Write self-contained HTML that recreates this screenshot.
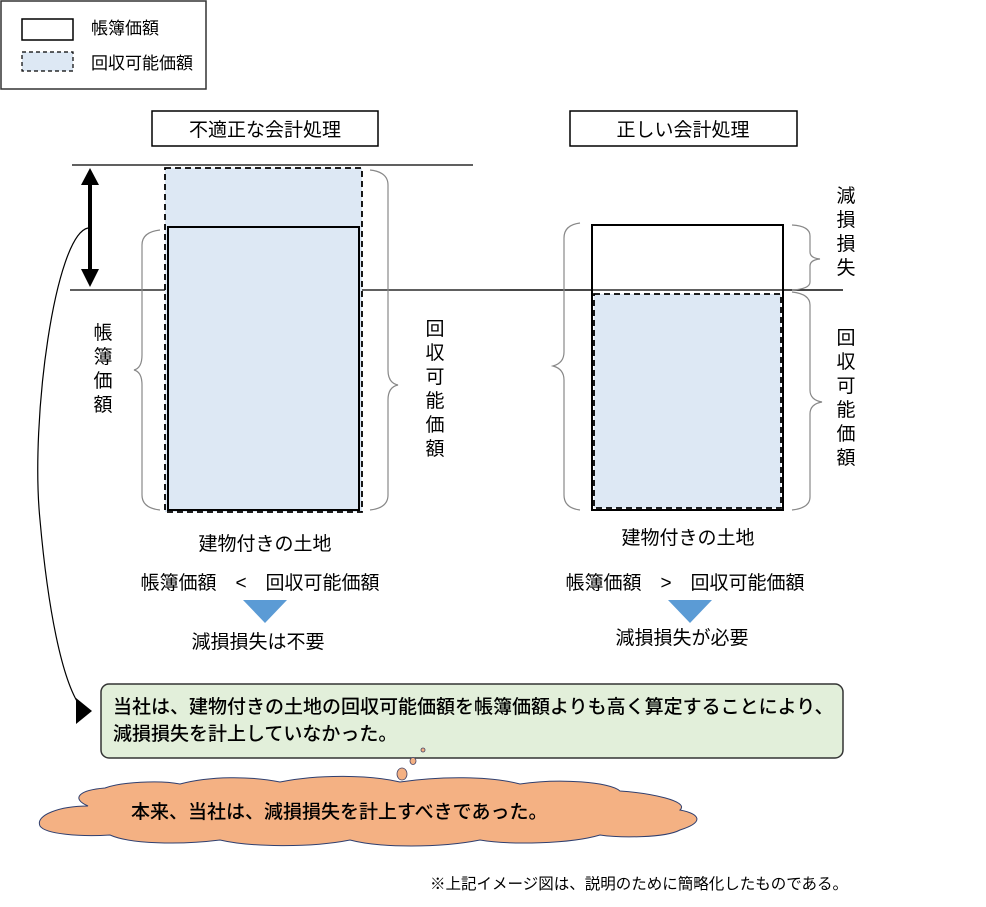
<!DOCTYPE html>
<html><head><meta charset="utf-8"><style>
html,body{margin:0;padding:0;background:#fff;}
svg{display:block;font-family:"Liberation Sans","Noto Sans CJK JP",sans-serif;}
text{font-size:19px;fill:#000;}
</style></head><body>
<svg width="986" height="907" viewBox="0 0 986 907">
<rect x="1" y="1" width="205" height="88" fill="#fff" stroke="#333" stroke-width="1.5"/>
<rect x="22" y="19" width="51" height="21" fill="#fff" stroke="#000" stroke-width="1.5"/>
<text x="91" y="34" style="font-size:17px">帳簿価額</text>
<rect x="22" y="52" width="51" height="19" fill="#dde8f4" stroke="#000" stroke-width="1.2" stroke-dasharray="4,3"/>
<text x="91" y="69" style="font-size:17px">回収可能価額</text>
<rect x="152" y="111" width="226" height="35" fill="#fff" stroke="#000" stroke-width="1.5"/>
<text x="265" y="136" text-anchor="middle">不適正な会計処理</text>
<rect x="570" y="111" width="227" height="35" fill="#fff" stroke="#000" stroke-width="1.5"/>
<text x="683" y="136" text-anchor="middle">正しい会計処理</text>
<line x1="72" y1="165" x2="473" y2="165" stroke="#000" stroke-width="1.2"/>
<line x1="70" y1="290" x2="843" y2="290" stroke="#000" stroke-width="1.2"/>
<rect x="165" y="168" width="197" height="344" fill="#dde8f4" stroke="#000" stroke-width="1.8" stroke-dasharray="6,4"/>
<rect x="168" y="227" width="191" height="283" fill="#dde8f4" stroke="#000" stroke-width="2"/>
<line x1="90" y1="182" x2="90" y2="272" stroke="#000" stroke-width="4"/>
<path d="M81,185 L90,168 L99,185 Z M81,269 L90,287 L99,269 Z" fill="#000"/>
<path d="M160,230 Q142,232 142,245 L142,355 Q142,368 134,370 Q142,372 142,385 L142,495 Q142,508 160,510" fill="none" stroke="#888" stroke-width="1.2"/>
<path d="M370,170 Q388,172 388,185 L388,370 Q388,383 398,385 Q388,387 388,400 L388,495 Q388,508 370,510" fill="none" stroke="#888" stroke-width="1.2"/>
<g text-anchor="middle"><text x="103" y="339">帳</text><text x="103" y="363">簿</text><text x="103" y="387">価</text><text x="103" y="411">額</text>
<text x="435" y="335">回</text><text x="435" y="359">収</text><text x="435" y="383">可</text><text x="435" y="407">能</text><text x="435" y="431">価</text><text x="435" y="455">額</text></g>
<rect x="592" y="225" width="191" height="285" fill="#fff" stroke="#000" stroke-width="2"/>
<rect x="594" y="294" width="187" height="214" fill="#dde8f4" stroke="#000" stroke-width="1.8" stroke-dasharray="6,4"/>
<line x1="500" y1="290" x2="843" y2="290" stroke="#000" stroke-width="1.2"/>
<path d="M580,223 Q564,225 564,238 L564,352 Q564,363 553,366 Q564,369 564,380 L564,495 Q564,508 580,510" fill="none" stroke="#888" stroke-width="1.2"/>
<path d="M792,225 Q810,226 810,236 L810,252 Q810,258 820,259 Q810,260 810,266 L810,282 Q810,289 792,290" fill="none" stroke="#888" stroke-width="1.2"/>
<path d="M792,292 Q810,294 810,305 L810,390 Q810,400 822,402 Q810,404 810,414 L810,497 Q810,508 792,510" fill="none" stroke="#888" stroke-width="1.2"/>
<g text-anchor="middle"><text x="846" y="202">減</text><text x="846" y="226">損</text><text x="846" y="250">損</text><text x="846" y="274">失</text>
<text x="846" y="344">回</text><text x="846" y="368">収</text><text x="846" y="392">可</text><text x="846" y="416">能</text><text x="846" y="440">価</text><text x="846" y="464">額</text>
<text x="265" y="550">建物付きの土地</text><text x="688" y="544">建物付きの土地</text>
<text x="260" y="589">帳簿価額　&lt;　回収可能価額</text><text x="685" y="589">帳簿価額　&gt;　回収可能価額</text>
<text x="258" y="648">減損損失は不要</text><text x="682" y="644">減損損失が必要</text></g>
<path d="M243,600 L287,600 L265,623 Z M668,600 L712,600 L690,623 Z" fill="#5b9bd5"/>
<path d="M88,228 C55,235 30,420 40,520 C48,610 62,680 80,706" fill="none" stroke="#000" stroke-width="1.2"/>
<path d="M76,698 L92,711 L76,724 Z" fill="#000"/>
<rect x="101" y="684" width="742" height="74" rx="8" fill="#e2efda" stroke="#333" stroke-width="1.5"/>
<text x="113" y="713" style="font-weight:500">当社は、建物付きの土地の回収可能価額を帳簿価額よりも高く算定することにより、</text>
<text x="113" y="740" style="font-weight:500">減損損失を計上していなかった。</text>
<ellipse cx="423" cy="750" rx="2" ry="2" fill="#f4b183" stroke="#446" stroke-width="0.8"/>
<ellipse cx="413" cy="761" rx="3" ry="3.5" fill="#f4b183" stroke="#446" stroke-width="0.8"/>
<ellipse cx="402" cy="774" rx="5" ry="6" fill="#f4b183" stroke="#446" stroke-width="0.8"/>
<path d="M88,806 C70,798 80,790 105,788 C120,782 160,780 180,784 C210,776 250,776 280,782 C320,774 370,775 400,782 C440,776 490,776 520,784 C560,778 610,782 620,791 C650,793 690,801 680,810 C700,814 705,822 680,830 C665,838 620,838 600,835 C570,844 510,845 480,840 C440,848 380,848 350,840 C310,848 250,847 220,840 C180,845 130,844 110,835 C80,837 45,834 40,826 C35,815 60,806 88,806 Z" fill="#f4b183" stroke="#2f3f6f" stroke-width="1"/>
<text x="131" y="818" style="font-weight:500">本来、当社は、減損損失を計上すべきであった。</text>
<text x="430" y="889" style="font-size:15.5px">※上記イメージ図は、説明のために簡略化したものである。</text>
</svg>
</body></html>
